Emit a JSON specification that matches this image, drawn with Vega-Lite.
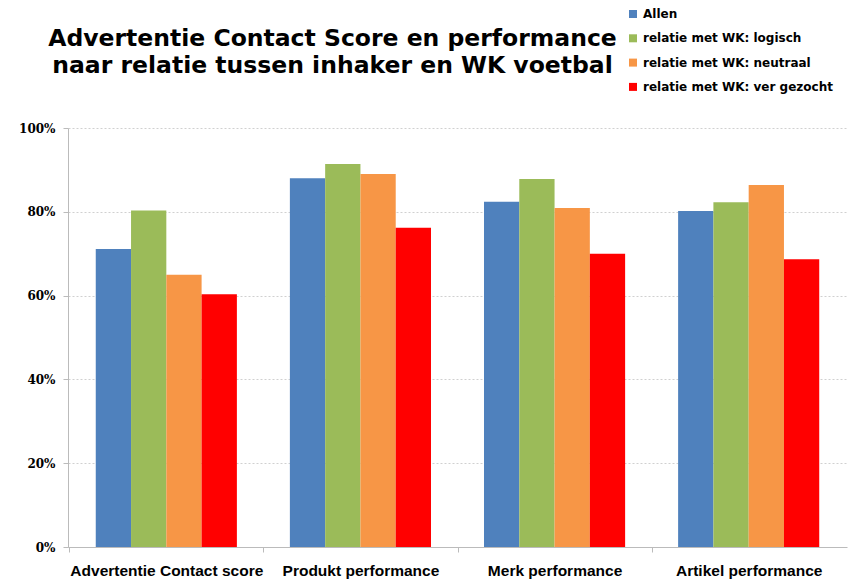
{
  "$schema": "https://vega.github.io/schema/vega-lite/v6.json",
  "width": 779,
  "height": 419,
  "autosize": "none",
  "padding": {"left": 68, "top": 128, "right": 7, "bottom": 35},
  "background": "white",
  "title": {
    "text": ["Advertentie Contact Score en performance", "naar relatie tussen inhaker en WK voetbal"],
    "font": "DejaVu Sans",
    "fontSize": 23.5,
    "fontWeight": "bold",
    "color": "black",
    "anchor": "middle",
    "frame": "group",
    "dx": -125,
    "offset": 0,
    "dy": 70,
    "lineHeight": 27.6
  },
  "data": {
    "values": [
      {"categorie": "Advertentie Contact score", "groep": "Allen", "waarde": 0.711},
      {"categorie": "Advertentie Contact score", "groep": "relatie met WK: logisch", "waarde": 0.803},
      {"categorie": "Advertentie Contact score", "groep": "relatie met WK: neutraal", "waarde": 0.650},
      {"categorie": "Advertentie Contact score", "groep": "relatie met WK: ver gezocht", "waarde": 0.603},
      {"categorie": "Produkt performance", "groep": "Allen", "waarde": 0.880},
      {"categorie": "Produkt performance", "groep": "relatie met WK: logisch", "waarde": 0.914},
      {"categorie": "Produkt performance", "groep": "relatie met WK: neutraal", "waarde": 0.890},
      {"categorie": "Produkt performance", "groep": "relatie met WK: ver gezocht", "waarde": 0.762},
      {"categorie": "Merk performance", "groep": "Allen", "waarde": 0.824},
      {"categorie": "Merk performance", "groep": "relatie met WK: logisch", "waarde": 0.878},
      {"categorie": "Merk performance", "groep": "relatie met WK: neutraal", "waarde": 0.809},
      {"categorie": "Merk performance", "groep": "relatie met WK: ver gezocht", "waarde": 0.700},
      {"categorie": "Artikel performance", "groep": "Allen", "waarde": 0.802},
      {"categorie": "Artikel performance", "groep": "relatie met WK: logisch", "waarde": 0.823},
      {"categorie": "Artikel performance", "groep": "relatie met WK: neutraal", "waarde": 0.864},
      {"categorie": "Artikel performance", "groep": "relatie met WK: ver gezocht", "waarde": 0.687}
    ]
  },
  "mark": {"type": "bar"},
  "encoding": {
    "x": {
      "field": "categorie",
      "type": "nominal",
      "sort": ["Advertentie Contact score", "Produkt performance", "Merk performance", "Artikel performance"],
      "scale": {"paddingInner": 0.273, "paddingOuter": 0.143},
      "title": null,
      "axis": {
        "labelAngle": 0,
        "labelFont": "Liberation Sans",
        "labelFontSize": 15.5,
        "labelFontWeight": "bold",
        "labelColor": "black",
        "labelPadding": 11,
        "labelOffset": 97,
        "labelLimit": 300,
        "domainColor": "#bbbbbb",
        "tickColor": "#bbbbbb",
        "tickSize": 5,
        "tickOffset": -97,
        "grid": false
      }
    },
    "xOffset": {
      "field": "groep",
      "sort": ["Allen", "relatie met WK: logisch", "relatie met WK: neutraal", "relatie met WK: ver gezocht"],
      "scale": {"paddingInner": 0, "paddingOuter": 0}
    },
    "y": {
      "field": "waarde",
      "type": "quantitative",
      "scale": {"domain": [0, 1]},
      "title": null,
      "axis": {
        "format": ".0%",
        "values": [0, 0.2, 0.4, 0.6, 0.8, 1],
        "labelFont": "DejaVu Serif",
        "labelFontSize": 12,
        "labelFontWeight": "bold",
        "labelColor": "black",
        "labelPadding": 8,
        "tickSize": 5,
        "tickColor": "#bbbbbb",
        "domainColor": "#bbbbbb",
        "grid": true,
        "gridColor": "#d0d0d0",
        "gridDash": [2, 2]
      }
    },
    "color": {
      "field": "groep",
      "type": "nominal",
      "scale": {
        "domain": ["Allen", "relatie met WK: logisch", "relatie met WK: neutraal", "relatie met WK: ver gezocht"],
        "range": ["#4F81BD", "#9BBB59", "#F79646", "#FF0000"]
      },
      "legend": {
        "title": null,
        "orient": "none",
        "legendX": 559,
        "legendY": -120,
        "padding": 0,
        "symbolType": "square",
        "symbolSize": 64,
        "symbolStrokeWidth": 0,
        "labelFont": "DejaVu Sans",
        "labelFontSize": 12,
        "labelFontWeight": "bold",
        "labelColor": "black",
        "labelOffset": 4,
        "rowPadding": 12.3,
        "labelLimit": 260
      }
    }
  },
  "config": {"view": {"stroke": null}}
}
